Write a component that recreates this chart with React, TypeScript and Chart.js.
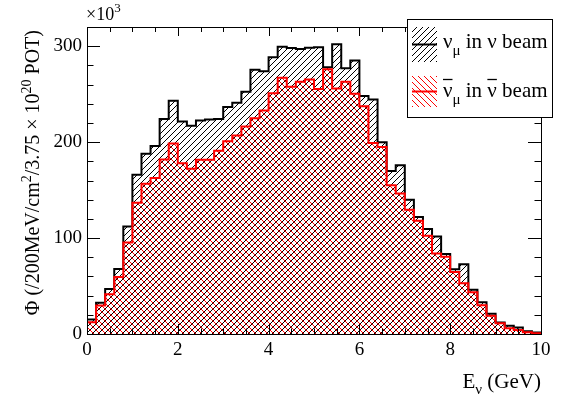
import React, { useEffect, useRef } from "react";
import { Chart, registerables } from "chart.js";

Chart.register(...registerables);

// ---------- data (values in units of 10^3 per 200 MeV bin) ----------
const BIN_WIDTH = 0.2; // GeV
const X_MIN = 0;
const X_MAX = 10;
const Y_MIN = 0;
const Y_MAX = 320;

// nu_mu in nu beam (black, /// hatch)
const NUMU_NU_BEAM = [
  15, 32.6, 47, 67.7, 112, 166, 188, 196, 224, 243,
  221.5, 217, 222.5, 223.5, 224, 236.5, 241, 252.5, 275.5, 274,
  288.5, 299.5, 298, 297, 298.5, 299, 278, 302, 277, 285,
  248, 244.5, 200, 170, 176, 140, 122, 109.5, 101.5, 83.5,
  67.5, 72.6, 46, 33, 21, 12, 8.5, 6.8, 2.8, 1.6,
];

// anti-nu_mu in anti-nu beam (red, \\\ hatch)
const NUMUBAR_NUBAR_BEAM = [
  12.2, 29.8, 41.5, 59.5, 95.5, 136.8, 156.5, 162.5, 182, 198.6,
  178, 172.2, 181.5, 181.5, 191, 201, 207, 216.3, 224.8, 233,
  251, 267, 257.8, 263, 265.3, 255.5, 276, 256, 263, 250.5,
  237.5, 199, 195, 155, 146.5, 129.5, 118, 102.5, 84, 80.6,
  64.5, 53, 43.5, 30, 19, 11.2, 6, 4.2, 1.8, 0.7,
];

const X_TICK_LABELS = [0, 2, 4, 6, 8, 10];
const Y_TICK_LABELS = [0, 100, 200, 300];
const X_MINOR_STEP = 0.5;
const Y_MINOR_STEP = 20;

const FONT = '"Liberation Serif", "DejaVu Serif", serif';

function histPoints(values: number[]) {
  const pts: { x: number; y: number }[] = [{ x: X_MIN, y: 0 }];
  values.forEach((v, i) => pts.push({ x: X_MIN + i * BIN_WIDTH, y: v }));
  const end = X_MIN + values.length * BIN_WIDTH;
  pts.push({ x: end, y: values[values.length - 1] });
  pts.push({ x: end, y: 0 });
  return pts;
}

function makeHatch(
  ctx: CanvasRenderingContext2D,
  color: string,
  dir: "/" | "\\",
  size = 6,
  lw = 1
) {
  const c = document.createElement("canvas");
  c.width = size;
  c.height = size;
  const g = c.getContext("2d")!;
  g.strokeStyle = color;
  g.lineWidth = lw;
  g.beginPath();
  if (dir === "/") {
    g.moveTo(-1, 1);
    g.lineTo(1, -1);
    g.moveTo(0, size);
    g.lineTo(size, 0);
    g.moveTo(size - 1, size + 1);
    g.lineTo(size + 1, size - 1);
  } else {
    g.moveTo(0, 0);
    g.lineTo(size, size);
    g.moveTo(size - 1, -1);
    g.lineTo(size + 1, 1);
    g.moveTo(-1, size - 1);
    g.lineTo(1, size + 1);
  }
  g.stroke();
  return ctx.createPattern(c, "repeat")!;
}

type Part = [string, "n" | "sup" | "sub"];

function drawRich(
  ctx: CanvasRenderingContext2D,
  parts: Part[],
  x: number,
  y: number,
  size: number,
  measureOnly = false
) {
  let cx = x;
  for (const [t, kind] of parts) {
    const s = kind === "n" ? size : Math.round(size * 0.7);
    ctx.font = `${s}px ${FONT}`;
    const dy = kind === "sup" ? -size * 0.42 : kind === "sub" ? size * 0.3 : 0;
    if (!measureOnly) ctx.fillText(t, cx, y + dy);
    cx += ctx.measureText(t).width;
  }
  return cx - x;
}

export default function App() {
  const ref = useRef<HTMLCanvasElement>(null);

  useEffect(() => {
    const canvas = ref.current!;
    const ctx0 = canvas.getContext("2d")!;
    const blackHatch = makeHatch(ctx0, "#000000", "/");
    const redHatch = makeHatch(ctx0, "#ff0000", "\\");

    const decor = {
      id: "rootDecor",
      afterDatasetsDraw(chart: any) {
        const ctx: CanvasRenderingContext2D = chart.ctx;
        const xs = chart.scales.x;
        const ys = chart.scales.y;
        const L = xs.getPixelForValue(X_MIN);
        const R = xs.getPixelForValue(X_MAX);
        const B = ys.getPixelForValue(Y_MIN);
        const T = ys.getPixelForValue(Y_MAX);
        ctx.save();
        ctx.strokeStyle = "#000";
        ctx.lineWidth = 1;
        // frame
        ctx.strokeRect(Math.round(L) + 0.5, Math.round(T) + 0.5, Math.round(R - L), Math.round(B - T));
        // x ticks (bottom & top, inward)
        ctx.beginPath();
        for (let v = X_MIN; v <= X_MAX + 1e-9; v += X_MINOR_STEP) {
          const major = X_TICK_LABELS.some((t) => Math.abs(t - v) < 1e-9);
          const px = Math.round(xs.getPixelForValue(v)) + 0.5;
          const lb = major ? 10 : 5.5;
          const lt = major ? 9 : 5;
          ctx.moveTo(px, B);
          ctx.lineTo(px, B - lb);
          ctx.moveTo(px, T);
          ctx.lineTo(px, T + lt);
        }
        // y ticks (left & right, inward)
        for (let v = Y_MIN; v <= Y_MAX + 1e-9; v += Y_MINOR_STEP) {
          const major = Y_TICK_LABELS.some((t) => Math.abs(t - v) < 1e-9);
          const py = Math.round(ys.getPixelForValue(v)) + 0.5;
          const len = major ? 13 : 6.5;
          ctx.moveTo(L, py);
          ctx.lineTo(L + len, py);
          ctx.moveTo(R, py);
          ctx.lineTo(R - len, py);
        }
        ctx.stroke();

        ctx.fillStyle = "#000";
        ctx.textBaseline = "alphabetic";
        ctx.textAlign = "left";

        // x10^3 exponent label
        drawRich(ctx, [["\u00d710", "n"], ["3", "sup"]], L - 1, T - 7, 18);

        // x axis title, right-aligned to the axis end
        const xt: Part[] = [["E", "n"], ["\u03bd", "sub"], [" (GeV)", "n"]];
        const xw = drawRich(ctx, xt, 0, 0, 21, true);
        drawRich(ctx, xt, R - xw, 388, 21);

        // y axis title, rotated, right-aligned to the axis top
        const yt: Part[] = [
          ["\u03a6 (/200MeV/cm", "n"],
          ["2", "sup"],
          ["/3.75 \u00d7 10", "n"],
          ["20", "sup"],
          [" POT)", "n"],
        ];
        const yw = drawRich(ctx, yt, 0, 0, 20, true);
        ctx.save();
        ctx.translate(39, T + 3 + yw);
        ctx.rotate(-Math.PI / 2);
        drawRich(ctx, yt, 0, 0, 20);
        ctx.restore();

        // legend
        const lx = 407.5, ly = 19.5, lw = 145, lh = 98;
        ctx.fillStyle = "#fff";
        ctx.fillRect(lx, ly, lw, lh);
        ctx.strokeStyle = "#000";
        ctx.lineWidth = 1;
        ctx.strokeRect(lx, ly, lw, lh);

        const entries = [
          { pat: blackHatch, color: "#000000", y0: 27, y1: 62, base: 48, bar: false },
          { pat: redHatch, color: "#ff0000", y0: 76, y1: 107, base: 97, bar: true },
        ];
        for (const e of entries) {
          ctx.fillStyle = e.pat;
          ctx.fillRect(412, e.y0, 25, e.y1 - e.y0);
          ctx.strokeStyle = e.color;
          ctx.lineWidth = 2;
          ctx.beginPath();
          const my = (e.y0 + e.y1) / 2;
          ctx.moveTo(412, my);
          ctx.lineTo(437, my);
          ctx.stroke();

          ctx.fillStyle = "#000";
          const size = 21;
          let cx = 443;
          ctx.font = `${size}px ${FONT}`;
          const nuW = ctx.measureText("\u03bd").width;
          const bar = (x: number) => {
            ctx.strokeStyle = "#000";
            ctx.lineWidth = 1.3;
            ctx.beginPath();
            ctx.moveTo(x, e.base - 17.5);
            ctx.lineTo(x + nuW, e.base - 17.5);
            ctx.stroke();
          };
          ctx.fillText("\u03bd", cx, e.base);
          if (e.bar) bar(cx);
          cx += nuW;
          cx += drawRich(ctx, [["\u03bc", "sub"]], cx, e.base + 1, size);
          ctx.font = `${size}px ${FONT}`;
          const inW = ctx.measureText(" in ").width;
          ctx.fillText(" in ", cx, e.base);
          cx += inW;
          ctx.fillText("\u03bd", cx, e.base);
          if (e.bar) bar(cx);
          cx += nuW;
          ctx.fillText(" beam", cx, e.base);
        }
        ctx.restore();
      },
    };

    const chart = new Chart(canvas, {
      type: "line",
      data: {
        datasets: [
          {
            label: "anti-nu_mu in anti-nu beam",
            data: histPoints(NUMUBAR_NUBAR_BEAM),
            order: 0,
            borderColor: "#ff0000",
            borderWidth: 2,
            backgroundColor: redHatch as any,
            fill: "origin",
            stepped: true,
            pointRadius: 0,
            borderJoinStyle: "miter",
          },
          {
            label: "nu_mu in nu beam",
            data: histPoints(NUMU_NU_BEAM),
            order: 1,
            borderColor: "#000000",
            borderWidth: 2,
            backgroundColor: blackHatch as any,
            fill: "origin",
            stepped: true,
            pointRadius: 0,
            borderJoinStyle: "miter",
          },
        ],
      },
      options: {
        responsive: false,
        animation: false,
        devicePixelRatio: 1,
        layout: { padding: { top: 27, right: 40, left: 0, bottom: 0 } },
        plugins: {
          legend: { display: false },
          tooltip: { enabled: false },
        },
        scales: {
          x: {
            type: "linear",
            min: X_MIN,
            max: X_MAX,
            grid: { display: false, drawTicks: false },
            border: { display: false },
            ticks: {
              color: "#000",
              font: { family: FONT, size: 19 },
              padding: 5,
              maxRotation: 0,
              autoSkip: false,
            },
            afterBuildTicks: (s: any) => {
              s.ticks = X_TICK_LABELS.map((v) => ({ value: v }));
            },
            afterFit: (s: any) => {
              s.height = 60;
            },
          },
          y: {
            type: "linear",
            min: Y_MIN,
            max: Y_MAX,
            grid: { display: false, drawTicks: false },
            border: { display: false },
            ticks: {
              color: "#000",
              font: { family: FONT, size: 19 },
              padding: 5,
            },
            afterBuildTicks: (s: any) => {
              s.ticks = Y_TICK_LABELS.map((v) => ({ value: v }));
            },
            afterFit: (s: any) => {
              s.width = 87;
            },
          },
        },
      } as any,
      plugins: [decor],
    });
    return () => chart.destroy();
  }, []);

  return (
    <div style={{ position: "fixed", left: 0, top: 0, width: 581, height: 394, background: "#fff" }}>
      <canvas ref={ref} width={581} height={394} style={{ display: "block" }} />
    </div>
  );
}
